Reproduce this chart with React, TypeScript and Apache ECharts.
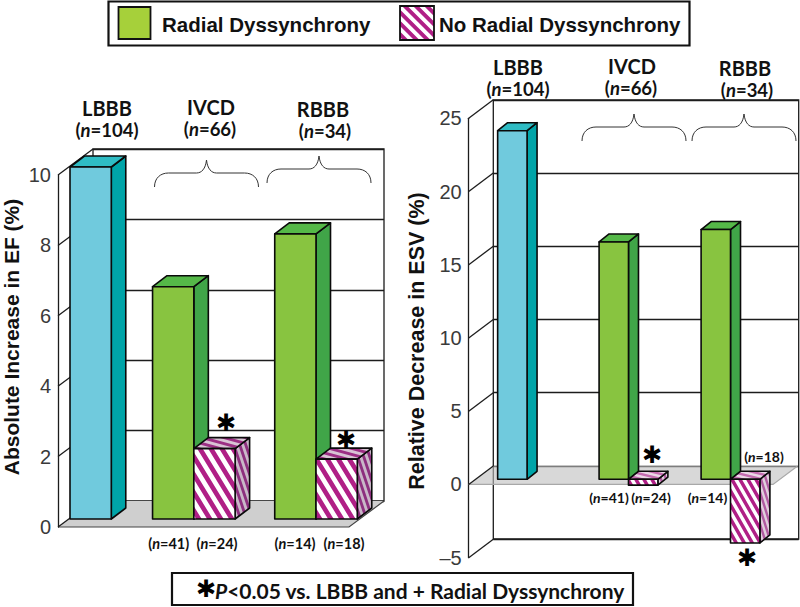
import React, { useEffect, useRef } from "react";
import * as echarts from "echarts";

// ---- data ----
const efTicks = [0, 2, 4, 6, 8, 10];
const esvTicks = [-5, 0, 5, 10, 15, 20, 25];
const efLbbb = [10.0];
const efRadial = [6.6, 8.1];
const efNoRadial = [2.0, 1.7];
const esvLbbb = [23.8];
const esvRadial = [16.2, 17.05];
const esvNoRadial = [-0.4, -4.35];
const legendNames = ["Radial Dyssynchrony", "No Radial Dyssynchrony"];
const groupNames = ["LBBB", "IVCD", "RBBB"];
const groupSizes = ["104", "66", "34"];
const subSizes = ["41", "24", "14", "18"];
const yTitles = ["Absolute Increase in EF (%)", "Relative Decrease in ESV (%)"];
const footnote = "<0.05 vs. LBBB and + Radial Dyssynchrony";
const starGlyph = "\u2731";

const LABEL_FONT = "Lato";
const ARIAL = "Liberation Sans";

function hatch(w: number, h: number, a: string, b: string) {
  const c = document.createElement("canvas");
  c.width = w;
  c.height = h;
  const g = c.getContext("2d")!;
  g.fillStyle = b;
  g.fillRect(0, 0, w, h);
  g.fillStyle = a;
  g.beginPath();
  g.moveTo(0, 0);
  g.lineTo(w / 2, 0);
  g.lineTo(w, h / 2);
  g.lineTo(w, h);
  g.closePath();
  g.moveTo(0, h / 2);
  g.lineTo(w / 2, h);
  g.lineTo(0, h);
  g.closePath();
  g.fill();
  return { image: c, repeat: "repeat" };
}

function barItem(depth: { dx: number; dy: number }, plane: { dx: number; dy: number }, palettes: any[]) {
  return (_p: any, api: any) => {
    const slot = api.value(0);
    const val = api.value(1);
    const pal = palettes[api.value(2)];
    const a = api.coord([slot, 0]);
    const b = api.coord([slot + 1, val]);
    const x0 = a[0] + plane.dx;
    const x1 = b[0] + plane.dx;
    const y0 = a[1] + plane.dy;
    const yv = b[1] + plane.dy;
    const top = Math.min(y0, yv);
    const bot = Math.max(y0, yv);
    const { dx, dy } = depth;
    const stroke = { stroke: "#0a0a0a", lineWidth: 1.6, lineJoin: "round" };
    return {
      type: "group",
      children: [
        {
          type: "polygon",
          shape: { points: [[x1, top], [x1 + dx, top + dy], [x1 + dx, bot + dy], [x1, bot]] },
          style: { fill: pal.side, ...stroke },
        },
        {
          type: "polygon",
          shape: { points: [[x0, top], [x0 + dx, top + dy], [x1 + dx, top + dy], [x1, top]] },
          style: { fill: pal.top, ...stroke },
        },
        {
          type: "polygon",
          shape: { points: [[x0, top], [x1, top], [x1, bot], [x0, bot]] },
          style: { fill: pal.front, ...stroke },
        },
      ],
    };
  };
}

function App() {
  const ref = useRef<HTMLDivElement>(null);
  useEffect(() => {
    const chart = echarts.init(ref.current!, undefined, { renderer: "svg" });

    echarts.graphic.registerShape(
      "brace",
      echarts.graphic.extendPath(
        "M0 27C0 18 6 13 14 13L42 13C47 13 51 9 52 0C53 9 57 13 62 13L90 13C98 13 104 18 104 27",
        {}
      )
    );

    const blue = { front: "#70cadd", side: "#00a4a8", top: "#2fbcc4" };
    const green = { front: "#88c440", side: "#40a548", top: "#55b848" };
    const stripeL = {
      front: hatch(11, 18, "#b01f86", "#ffffff"),
      side: hatch(6, 18, "#8d2f7e", "#c9b8c8"),
      top: hatch(22, 6, "#9c2f84", "#d8c4d4"),
    };
    const stripeR = {
      front: hatch(8, 14, "#b01f86", "#ffffff"),
      side: hatch(5, 16, "#b05aa0", "#e0cfdc"),
      top: hatch(20, 5, "#c46cb0", "#ead8e6"),
    };
    const legendSwatch = hatch(11, 11, "#b01f86", "#ffffff");

    const charts = [
      {
        front: { left: 58, top: 175, width: 291, height: 352 },
        back: { left: 93, top: 149, width: 291, height: 352 },
        xMax: 7.05,
        min: 0,
        max: 10,
        interval: 2,
        ticks: efTicks,
        slots: { lbbb: [0], rad: [2, 4.96], no: [3, 5.96] },
        lbbb: efLbbb,
        rad: efRadial,
        no: efNoRadial,
        plane: { dx: 12, dy: -8 },
        depth: { dx: 14.5, dy: -11 },
        wall: { dx: 35, dy: -26 },
        floor: "#cfcfcf",
        floorLine: "#444",
        stripes: stripeL,
      },
      {
        front: { left: 468.7, top: 118.3, width: 304.3, height: 439.4 },
        back: { left: 493.3, top: 100, width: 305.4, height: 439 },
        xMax: 10.35,
        min: -5,
        max: 25,
        interval: 5,
        ticks: esvTicks,
        slots: { lbbb: [0.75], rad: [4.2, 7.67], no: [5.2, 8.67] },
        lbbb: esvLbbb,
        rad: esvRadial,
        no: esvNoRadial,
        plane: { dx: 6.9, dy: -5.2 },
        depth: { dx: 10, dy: -8 },
        wall: { dx: 24.6, dy: -18.5 },
        floor: "rgba(190,190,190,0.6)",
        floorLine: "#a8a8a8",
        stripes: stripeR,
      },
    ];

    const grid: any[] = [];
    const xAxis: any[] = [];
    const yAxis: any[] = [];
    const series: any[] = [];

    charts.forEach((c, i) => {
      const fi = i * 2;
      const bi = i * 2 + 1;
      grid.push(
        { ...c.front, containLabel: false },
        { ...c.back, show: true, borderColor: "#1c1c1c", borderWidth: 1.3, backgroundColor: "transparent" }
      );
      xAxis.push(
        { type: "value", gridIndex: fi, min: 0, max: c.xMax, show: false },
        { type: "value", gridIndex: bi, min: 0, max: c.xMax, show: false }
      );
      yAxis.push(
        {
          type: "value",
          gridIndex: fi,
          min: c.min,
          max: c.max,
          interval: c.interval,
          axisLine: { show: true, onZero: false, lineStyle: { color: "#1c1c1c", width: 1.3 } },
          axisTick: { show: false },
          splitLine: { show: false },
          axisLabel: {
            margin: 7,
            fontFamily: ARIAL,
            fontSize: 20,
            color: "#3a3a3a",
            formatter: (v: number) => (v < 0 ? "\u2013" + Math.abs(v) : String(v)),
          },
        },
        {
          type: "value",
          gridIndex: bi,
          min: c.min,
          max: c.max,
          interval: c.interval,
          axisLine: { show: false },
          axisTick: { show: false },
          axisLabel: { show: false },
          splitLine: { show: true, lineStyle: { color: "#1c1c1c", width: 1.3 } },
        }
      );

      // floor
      series.push({
        type: "custom",
        xAxisIndex: fi,
        yAxisIndex: fi,
        z: 1,
        clip: false,
        silent: true,
        data: [[0, 0]],
        renderItem: (_p: any, api: any) => {
          const a = api.coord([0, 0]);
          const b = api.coord([c.xMax, 0]);
          const { dx, dy } = c.wall;
          return {
            type: "group",
            children: [
              {
                type: "polygon",
                shape: { points: [a, b, [b[0] + dx, b[1] + dy], [a[0] + dx, a[1] + dy]] },
                style: { fill: c.floor },
              },
              {
                type: "polyline",
                shape: { points: [a, b, [b[0] + dx, b[1] + dy]] },
                style: { fill: "none", stroke: c.floorLine, lineWidth: 1.2 },
              },
            ],
          };
        },
      });

      // slanted ticks joining the front axis to the back wall
      series.push({
        type: "custom",
        xAxisIndex: fi,
        yAxisIndex: fi,
        z: 1,
        clip: false,
        silent: true,
        data: c.ticks.map((t) => [0, t]),
        renderItem: (_p: any, api: any) => {
          const a = api.coord([0, api.value(1)]);
          return {
            type: "line",
            shape: { x1: a[0], y1: a[1], x2: a[0] + c.wall.dx, y2: a[1] + c.wall.dy },
            style: { stroke: "#1c1c1c", lineWidth: 1.3 },
          };
        },
      });

      const palettes = [blue, green, c.stripes];
      const bars = (name: string, slots: number[], vals: number[], pal: number) => ({
        type: "custom",
        name,
        xAxisIndex: fi,
        yAxisIndex: fi,
        z: 3,
        clip: false,
        silent: true,
        data: vals.map((v, k) => [slots[k], v, pal]),
        renderItem: barItem(c.depth, c.plane, palettes),
      });
      series.push(bars(groupNames[0], c.slots.lbbb, c.lbbb, 0));
      series.push(bars(legendNames[0], c.slots.rad, c.rad, 1));
      series.push(bars(legendNames[1], c.slots.no, c.no, 2));
    });

    const richN = (size: number) => ({
      p: { fontFamily: LABEL_FONT, fontWeight: "bold", fontSize: size, fill: "#111", color: "#111" },
      i: { fontFamily: LABEL_FONT, fontWeight: "bold", fontStyle: "italic", fontSize: size, fill: "#111", color: "#111" },
    });
    const nText = (x: number, y: number, n: string, size: number) => ({
      type: "text",
      x,
      y,
      z: 20,
      style: {
        text: `{p|(}{i|n}{p|=${n})}`,
        rich: richN(size),
        textAlign: "center",
        textVerticalAlign: "middle",
      },
    });
    const plain = (x: number, y: number, text: string, size: number, family = LABEL_FONT, extra: any = {}) => ({
      type: "text",
      x,
      y,
      z: 20,
      style: {
        text,
        fontFamily: family,
        fontWeight: "bold",
        fontSize: size,
        fill: "#111",
        textAlign: "center",
        textVerticalAlign: "middle",
        ...extra,
      },
    });
    const star = (x: number, y: number) => plain(x, y, starGlyph, 24, "DejaVu Sans", { fill: "#000", fontWeight: "normal" });
    const brace = (x: number, y: number) => ({
      type: "brace",
      x,
      y,
      z: 2,
      style: { fill: "none", stroke: "#333", lineWidth: 1 },
    });

    const graphic: any[] = [
      // legend
      { type: "rect", z: 19, shape: { x: 108.5, y: 1.5, width: 581, height: 44 }, style: { fill: "#fff", stroke: "#111", lineWidth: 2.2 } },
      { type: "rect", z: 20, shape: { x: 118.5, y: 7, width: 32, height: 32 }, style: { fill: "#a6d03a", stroke: "#111", lineWidth: 1.8 } },
      { type: "rect", z: 20, shape: { x: 400, y: 6, width: 34, height: 34 }, style: { fill: legendSwatch, stroke: "#111", lineWidth: 1.8 } },
      plain(162, 24, legendNames[0], 20.5, ARIAL, { textAlign: "left" }),
      plain(439, 24, legendNames[1], 20.5, ARIAL, { textAlign: "left" }),

      // left headers
      plain(107, 108, groupNames[0], 20),
      nText(107, 130, groupSizes[0], 18.5),
      plain(211, 107, groupNames[1], 20),
      nText(210, 129, groupSizes[1], 18.5),
      plain(323, 109, groupNames[2], 20),
      nText(325, 131, groupSizes[2], 18.5),
      // right headers
      plain(518, 66.5, groupNames[0], 20),
      nText(518, 88.5, groupSizes[0], 18.5),
      plain(632, 66, groupNames[1], 20),
      nText(631, 88, groupSizes[1], 18.5),
      plain(745, 67.5, groupNames[2], 20),
      nText(747, 89.5, groupSizes[2], 18.5),

      // braces
      brace(154.5, 160),
      brace(267, 156),
      brace(582, 114),
      brace(692, 114),

      // small n labels
      nText(168.7, 543, subSizes[0], 14.5),
      nText(217, 543, subSizes[1], 14.5),
      nText(295, 543, subSizes[2], 14.5),
      nText(344, 543, subSizes[3], 14.5),
      nText(609, 497, subSizes[0], 14),
      nText(651, 497, subSizes[1], 14),
      nText(707.5, 497, subSizes[2], 14),
      nText(764, 456, subSizes[3], 14),

      // stars
      star(226, 423),
      star(346, 440),
      star(652, 455),
      star(747, 558),

      // y titles
      { ...plain(11, 337, yTitles[0], 21, ARIAL), rotation: Math.PI / 2 },
      { ...plain(416.5, 341, yTitles[1], 21.5, ARIAL), rotation: Math.PI / 2 },

      // footnote
      { type: "rect", z: 19, shape: { x: 172, y: 573, width: 461, height: 32 }, style: { fill: "#fff", stroke: "#111", lineWidth: 2.2 } },
      star(206, 589),
      {
        type: "text",
        x: 215,
        y: 590,
        z: 20,
        style: {
          text: `{i|P}{p|${footnote}}`,
          rich: richN(21),
          textAlign: "left",
          textVerticalAlign: "middle",
        },
      },
    ];

    chart.setOption({
      animation: false,
      backgroundColor: "#ffffff",
      grid,
      xAxis,
      yAxis,
      series,
      graphic,
    });
    return () => chart.dispose();
  }, []);

  return <div ref={ref} style={{ position: "absolute", left: 0, top: 0, width: 800, height: 607 }} />;
}

export default App;
